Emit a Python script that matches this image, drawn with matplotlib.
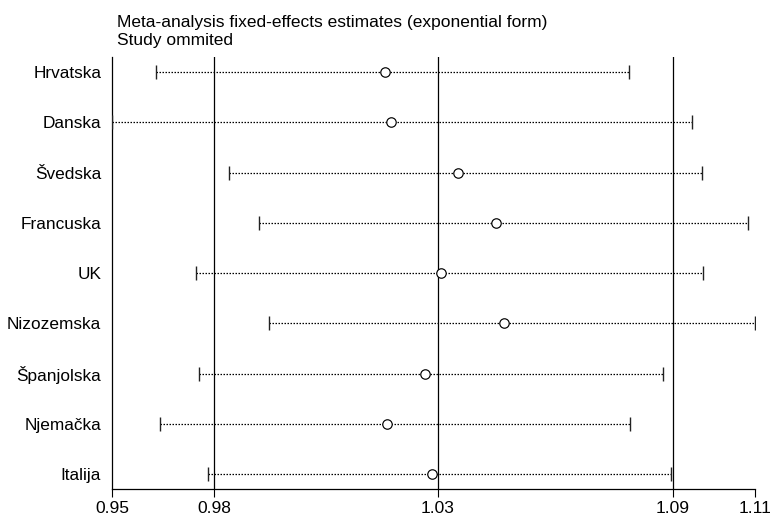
import matplotlib
matplotlib.use("Agg")
import matplotlib.pyplot as plt

studies = ["Hrvatska", "Danska", "Švedska", "Francuska", "UK",
           "Nizozemska", "Španjolska", "Njemačka", "Italija"]
estimate = [1.0180, 1.0195, 1.0361, 1.0453, 1.0317, 1.0475, 1.0278, 1.0185, 1.0296]
lower = [0.9613, 0.9504, 0.9794, 0.9866, 0.9711, 0.9891, 0.9719, 0.9622, 0.9740]
upper = [1.0783, 1.0939, 1.0964, 1.1078, 1.0966, 1.1096, 1.0868, 1.0785, 1.0887]
overall = [0.9756, 1.0310, 1.0892]  # lower CI, estimate, upper CI
title_lines = ["Meta-analysis fixed-effects estimates (exponential form)", "Study ommited"]

plt.rcParams['font.family'] = ['Liberation Sans', 'DejaVu Sans']

fig = plt.figure(figsize=(7.74, 5.19), dpi=100)
ax = fig.add_axes([112.3 / 774, 30.3 / 519, 643 / 774, 431.7 / 519])

xmin, xmax = min(lower), max(upper)
ys = list(range(len(studies)))

for v in overall:
    ax.axvline(v, color="black", lw=0.9, zorder=1)

for y, lo, est, hi in zip(ys, lower, estimate, upper):
    ax.plot([lo, hi], [y, y], color="black", lw=0.9,
            linestyle=(0, (1.2, 1.2)), zorder=2)
    ax.plot([lo, hi], [y, y], linestyle="none", marker="|", markersize=9.5,
            markeredgewidth=1.0, color="#222222", zorder=3)
    ax.plot([est], [y], linestyle="none", marker="o", markersize=6.8,
            markerfacecolor="white", markeredgecolor="black",
            markeredgewidth=0.85, zorder=4)

ax.set_xlim(xmin, xmax)
ax.set_ylim(len(studies) - 1 + 0.2925, -0.2985)

ticks = [xmin] + overall + [xmax]
ax.set_xticks(ticks)
ax.set_xticklabels(["%.2f" % t for t in ticks], fontsize=12.5)
ax.set_yticks(ys)
ax.set_yticklabels(studies, fontsize=12.4)

ax.tick_params(axis="x", direction="out", length=6, width=0.8, pad=2.5, colors="black")
ax.tick_params(axis="y", length=0, pad=8)

for s in ["top", "right"]:
    ax.spines[s].set_visible(False)
for s in ["left", "bottom"]:
    ax.spines[s].set_linewidth(0.9)
    ax.spines[s].set_color("black")

fig.text(116.7 / 774, 1 - 27.3 / 519, title_lines[0], fontsize=12.5, va="baseline", ha="left")
fig.text(116.7 / 774, 1 - 45.0 / 519, title_lines[1], fontsize=12.5, va="baseline", ha="left")

fig.savefig("out.png", dpi=100)
